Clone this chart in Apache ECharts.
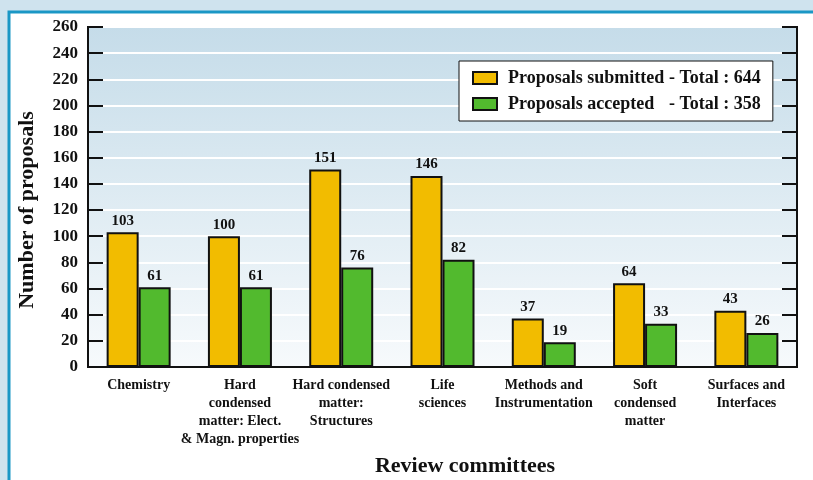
<!DOCTYPE html>
<html>
<head>
<meta charset="utf-8">
<script src="https://cdn.jsdelivr.net/npm/echarts@6/dist/echarts.min.js"></script>
<style>
  html, body { margin: 0; padding: 0; background: #cfe3ee; }
  #chart { width: 813px; height: 480px; }
</style>
</head>
<body>
<div id="chart"></div>
<script>
// Review committees and proposal counts
const committees = [
  'Chemistry',
  'Hard\ncondensed\nmatter: Elect.\n& Magn. properties',
  'Hard condensed\nmatter:\nStructures',
  'Life\nsciences',
  'Methods and\nInstrumentation',
  'Soft\ncondensed\nmatter',
  'Surfaces and\nInterfaces'
];
const submitted = [103, 100, 151, 146, 37, 64, 43];
const accepted = [61, 61, 76, 82, 19, 33, 26];
const yTicks = { min: 0, max: 260, step: 20 };

const sum = a => a.reduce((s, v) => s + v, 0);
const FONT = '"Liberation Serif", "Times New Roman", serif';
const INK = '#111';

const chart = echarts.init(document.getElementById('chart'), null, { renderer: 'canvas' });

const labelStyle = {
  show: true,
  position: 'top',
  distance: 4,
  fontFamily: FONT,
  fontWeight: 'bold',
  fontSize: 15,
  color: INK
};

chart.setOption({
  backgroundColor: '#cfe3ee',
  animation: false,
  graphic: [{
    type: 'rect',
    silent: true,
    z: -10,
    shape: { x: 9, y: 12, width: 900, height: 600 },
    style: { fill: '#ffffff', stroke: '#1a97c5', lineWidth: 3 }
  }],
  grid: {
    left: 88, right: 16, top: 27, bottom: 113,
    outerBoundsMode: 'none',
    containLabel: false,
    show: true,
    borderColor: INK,
    borderWidth: 2,
    backgroundColor: new echarts.graphic.LinearGradient(0, 0, 0, 1, [
      { offset: 0, color: '#c5dce9' },
      { offset: 1, color: '#f7fafc' }
    ])
  },
  legend: {
    orient: 'vertical',
    left: 459, top: 61,
    padding: [8, 12, 8, 13],
    icon: 'rect',
    itemWidth: 24, itemHeight: 12, itemGap: 8,
    backgroundColor: '#ffffff',
    borderColor: INK, borderWidth: 1,
    itemStyle: { borderColor: INK, borderWidth: 2 },
    formatter: name => {
      const total = name === 'Proposals submitted' ? sum(submitted) : sum(accepted);
      return '{n|' + name + '}{t|- Total : ' + total + '}';
    },
    textStyle: {
      fontFamily: FONT, fontWeight: 'bold', fontSize: 18, color: INK,
      rich: {
        n: { width: 161, padding: [0, 0, 0, 6], fontFamily: FONT, fontWeight: 'bold', fontSize: 18, color: INK },
        t: { fontFamily: FONT, fontWeight: 'bold', fontSize: 18, color: INK }
      }
    }
  },
  xAxis: {
    type: 'category',
    data: committees,
    name: 'Review committees',
    nameLocation: 'middle',
    nameGap: 88,
    nameTextStyle: { fontFamily: FONT, fontWeight: 'bold', fontSize: 22, color: INK, padding: [0, 0, 0, 45] },
    axisLine: { lineStyle: { color: INK, width: 2 } },
    axisTick: { show: false },
    axisLabel: {
      interval: 0, margin: 9,
      fontFamily: FONT, fontWeight: 'bold', fontSize: 14, lineHeight: 18, color: INK
    }
  },
  yAxis: [{
    type: 'value',
    min: yTicks.min, max: yTicks.max, interval: yTicks.step,
    name: 'Number of proposals',
    nameLocation: 'middle',
    nameGap: 50,
    nameTextStyle: { fontFamily: FONT, fontWeight: 'bold', fontSize: 22, color: INK, padding: [0, 26, 0, 0] },
    axisLine: { show: true, lineStyle: { color: INK, width: 2 } },
    axisTick: { show: true, inside: true, length: 15, lineStyle: { color: INK, width: 2 } },
    axisLabel: { margin: 10, fontFamily: FONT, fontWeight: 'bold', fontSize: 17, color: INK },
    splitLine: { show: true, lineStyle: { color: '#ffffff', width: 2 } }
  }, {
    type: 'value',
    position: 'right',
    min: yTicks.min, max: yTicks.max, interval: yTicks.step,
    axisLine: { show: true, lineStyle: { color: INK, width: 2 } },
    axisTick: { show: true, inside: true, length: 15, lineStyle: { color: INK, width: 2 } },
    axisLabel: { show: false },
    splitLine: { show: false }
  }],
  series: [{
    name: 'Proposals submitted',
    type: 'bar',
    data: submitted,
    barWidth: 32,
    barGap: '0%',
    itemStyle: { color: '#f2bc00', borderColor: INK, borderWidth: 2 },
    label: labelStyle
  }, {
    name: 'Proposals accepted',
    type: 'bar',
    data: accepted,
    barWidth: 32,
    barGap: '0%',
    itemStyle: { color: '#52ba2e', borderColor: INK, borderWidth: 2 },
    label: labelStyle
  }]
});
</script>
</body>
</html>
